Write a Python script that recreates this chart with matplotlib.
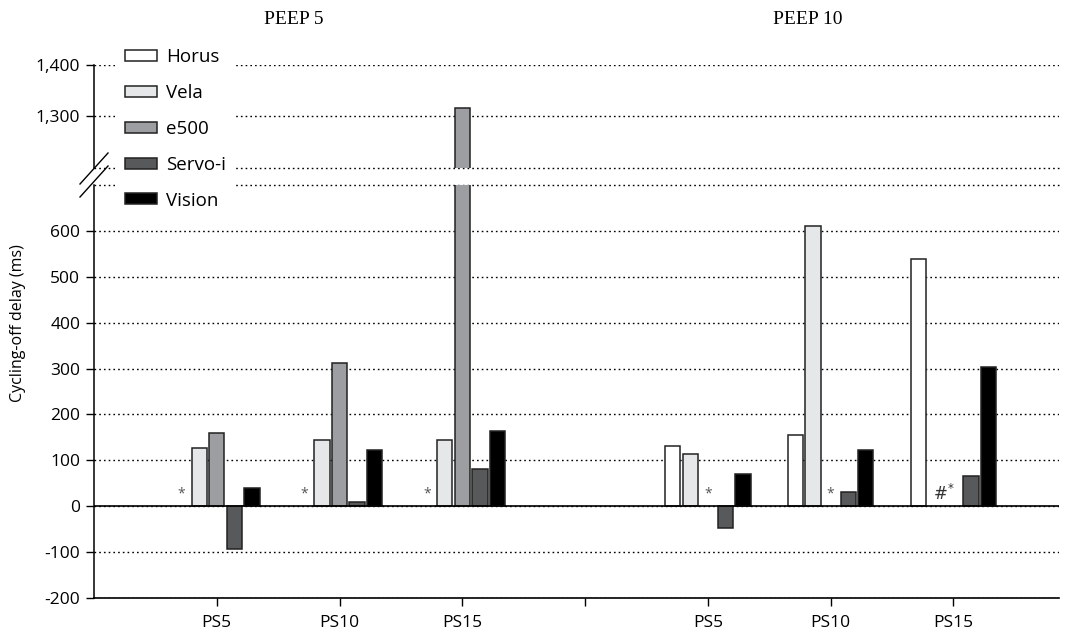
import numpy as np
import matplotlib.pyplot as plt
from matplotlib.lines import Line2D
from matplotlib.ticker import FuncFormatter

plt.rcParams['font.family'] = ['Open Sans', 'DejaVu Sans']
plt.rcParams['axes.unicode_minus'] = False

# Dados (ms) - grupos: PEEP5 PS5/PS10/PS15, PEEP10 PS5/PS10/PS15
group_pos = [1, 2, 3, 5, 6, 7]
tick_pos = [1, 2, 3, 4, 5, 6, 7]
tick_labels = ['PS5', 'PS10', 'PS15', '', 'PS5', 'PS10', 'PS15']
peep_labels = ['PEEP 5', 'PEEP 10']

series = ['Horus', 'Vela', 'e500', 'Servo-i', 'Vision']
horus = [np.nan, np.nan, np.nan, 132, 156, 539]
vela = [126, 145, 145, 114, 610, np.nan]
e500 = [159, 312, 1316, np.nan, np.nan, np.nan]
servo = [-93, 10, 82, -47, 31, 66]
vision = [39, 122, 163, 71, 122, 304]
valores = [horus, vela, e500, servo, vision]
cores = ['#ffffff', '#e6e7e9', '#9d9ea2', '#58595b', '#000000']

# marcas de significancia: (grupo, serie, texto)
marcas = [(0, 0, '*'), (1, 0, '*'), (2, 0, '*'),
          (3, 2, '*'), (4, 2, '*'), (5, 2, '#*')]

passo = 0.143
largura = 0.125
grade = (0, (1.2, 2.2))

fig = plt.figure(figsize=(10.77, 6.32), dpi=100)
ax_bot = fig.add_axes([0.0873, 0.0538, 0.896, 0.6535])
ax_top = fig.add_axes([0.0873, 0.7342, 0.896, 0.163], sharex=ax_bot)

x = np.array(group_pos, dtype=float)
handles = []
for i, (nome, vals, cor) in enumerate(zip(series, valores, cores)):
    off = (i - 2) * passo
    for ax in (ax_bot, ax_top):
        b = ax.bar(x + off, vals, largura, color=cor, edgecolor='#222222',
                   linewidth=1.1, zorder=3, label=nome)
    handles.append(b)

for g, s, txt in marcas:
    xx = group_pos[g] + (s - 2) * passo
    if txt == '*':
        ax_bot.text(xx, 10, txt, ha='center', va='bottom', fontsize=10,
                    color='#555555', zorder=4)
    else:
        ax_bot.text(xx + largura * 0.1, 4, r'$\#^{*}$', ha='right', va='bottom',
                    fontsize=12, color='#333333', zorder=4)

ax_bot.set_ylim(-200, 700)
ax_top.set_ylim(1200, 1400)
ax_bot.set_xlim(0, 7.86)

ax_bot.set_yticks(np.arange(-200, 700, 100))
ax_top.set_yticks([1300, 1400])
fmt = FuncFormatter(lambda v, p: f"{v:,.0f}")
ax_bot.yaxis.set_major_formatter(fmt)
ax_top.yaxis.set_major_formatter(fmt)

ax_bot.set_xticks(tick_pos)
ax_bot.set_xticklabels(tick_labels)
ax_top.tick_params(axis='x', bottom=False, labelbottom=False)

for ax in (ax_bot, ax_top):
    ax.spines['top'].set_visible(False)
    ax.spines['right'].set_visible(False)
    ax.spines['left'].set_linewidth(1.1)
    ax.tick_params(axis='y', length=6, width=1, pad=4, labelsize=12.5)
    ax.yaxis.grid(True, linestyle=grade, color='black', linewidth=1.0)
    ax.set_axisbelow(True)
ax_top.spines['bottom'].set_visible(False)
ax_bot.spines['bottom'].set_linewidth(1.2)
ax_bot.tick_params(axis='x', length=6, width=1, pad=6, labelsize=12.5)

# linhas extras de grade na quebra e linha do zero
ax_bot.axhline(700, linestyle=grade, color='black', linewidth=1.0, zorder=0, clip_on=False)
ax_top.axhline(1200, linestyle=grade, color='black', linewidth=1.0, zorder=0, clip_on=False)
ax_bot.axhline(0, color='black', linewidth=1.2, zorder=4)

# marca de quebra do eixo
for dy in (0, 13):
    fig.add_artist(Line2D([80 / 1077, 108 / 1077],
                          [1 - (184 + dy) / 632, 1 - (153 + dy) / 632],
                          transform=fig.transFigure, color='black', linewidth=1.0))

fig.text(18 / 1077, 1 - 323 / 632, 'Cycling-off delay (ms)', rotation=90,
         ha='center', va='center', fontsize=11.5)
fig.text(294 / 1077, 1 - 20 / 632, peep_labels[0], ha='center', va='center',
         fontsize=14, family='Liberation Serif')
fig.text(808 / 1077, 1 - 20 / 632, peep_labels[1], ha='center', va='center',
         fontsize=14, family='Liberation Serif')

leg = fig.legend(handles=handles, labels=series, loc='upper left',
                 bbox_to_anchor=(115 / 1077, 1 - 38 / 632), borderaxespad=0,
                 frameon=True, fancybox=False, edgecolor='none', facecolor='white',
                 framealpha=1, fontsize=13.5, handlelength=1.7, handleheight=0.53,
                 handletextpad=0.45, labelspacing=0.95, borderpad=0.55)

fig.savefig('out.png', dpi=100)
